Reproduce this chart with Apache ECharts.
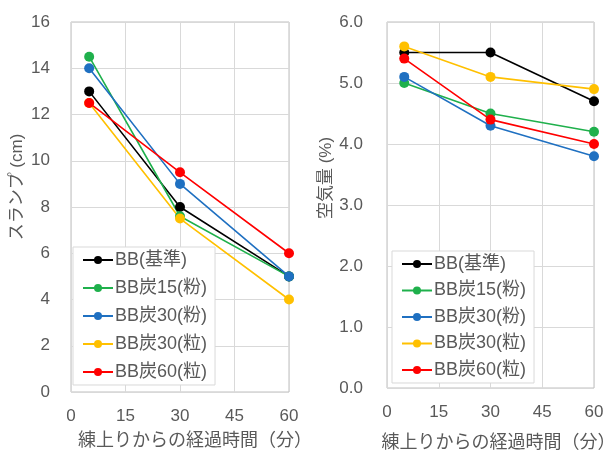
<!DOCTYPE html>
<html lang="ja">
<head>
    <meta charset="UTF-8">
    <title>スランプ・空気量</title>
    <script type="text/javascript" src="https://cdn.jsdelivr.net/npm/echarts@6/dist/echarts.min.js"></script>
    <style>
        html, body { margin: 0; padding: 0; background: #fff; }
        #main { width: 610px; height: 450px; }
    </style>
</head>
<body>
<div id="main"></div>
<script>
    // 経過時間 (分)
    let times = [5, 30, 60];
    let names = ['BB(基準)', 'BB炭15(粉)', 'BB炭30(粉)', 'BB炭30(粒)', 'BB炭60(粒)'];
    let colors = ['#000000', '#1fb04c', '#1f70c1', '#ffc000', '#ff0000'];

    // スランプ (cm)
    let slump = [
        [13, 8, 5],
        [14.5, 7.6, 5],
        [14, 9, 5],
        [12.5, 7.5, 4],
        [12.5, 9.5, 6]
    ];
    // 空気量 (%)
    let air = [
        [5.5, 5.5, 4.7],
        [5.0, 4.5, 4.2],
        [5.1, 4.3, 3.8],
        [5.6, 5.1, 4.9],
        [5.4, 4.4, 4.0]
    ];

    let font = "'Liberation Sans', 'Noto Sans CJK JP', sans-serif";
    let gray = '#595959';

    function pairs(vals) {
        return vals.map((v, i) => [times[i], v]);
    }

    let series = [];
    names.forEach((n, i) => {
        series.push({ name: n, type: 'line', xAxisIndex: 0, yAxisIndex: 0, data: pairs(slump[i]),
            symbol: 'circle', symbolSize: 10, lineStyle: { width: 1.6 }, color: colors[i] });
        series.push({ name: n, type: 'line', xAxisIndex: 1, yAxisIndex: 1, data: pairs(air[i]),
            symbol: 'circle', symbolSize: 10, lineStyle: { width: 1.6 }, color: colors[i] });
    });

    function xAxis(idx, gap, shift) {
        return {
            type: 'value', gridIndex: idx, min: 0, max: 60, interval: 15,
            name: '練上りからの経過時間（分）', nameLocation: 'middle', nameGap: gap,
            nameTextStyle: { color: gray, fontSize: 18, fontFamily: font, padding: [0, 0, 0, shift] },
            axisLine: { show: false }, axisTick: { show: false },
            axisLabel: { color: gray, fontSize: 17, fontFamily: font, margin: 16 },
            splitLine: { lineStyle: { color: '#d9d9d9' } }
        };
    }

    function legend(left, top, gap) {
        return {
            data: names, orient: 'vertical', left: left, top: top,
            itemWidth: 30, itemHeight: 10, itemGap: gap,
            backgroundColor: '#fff', borderColor: '#d9d9d9', borderWidth: 1, padding: [4, 8, 4, 9],
            textStyle: { color: gray, fontSize: 18, fontFamily: font, padding: [0, 0, 0, -3] }
        };
    }

    let chart = echarts.init(document.getElementById('main'));
    chart.setOption({
        animation: false,
        grid: [
            { left: 71, top: 22, width: 218, height: 370, show: true, borderColor: '#bfbfbf', borderWidth: 1,
              outerBoundsMode: 'none' },
            { left: 387, top: 22, width: 207, height: 366, show: true, borderColor: '#bfbfbf', borderWidth: 1,
              outerBoundsMode: 'none' }
        ],
        xAxis: [xAxis(0, 40, 30), xAxis(1, 46, 16)],
        yAxis: [
            {
                type: 'value', gridIndex: 0, min: 0, max: 16, interval: 2,
                name: 'スランプ (cm)', nameLocation: 'middle', nameGap: 45,
                nameTextStyle: { color: gray, fontSize: 17, fontFamily: font, padding: [0, 0, 0, 40] },
                axisLine: { show: false }, axisTick: { show: false },
                axisLabel: { color: gray, fontSize: 17, fontFamily: font, margin: 21 },
                splitLine: { lineStyle: { color: '#d9d9d9' } }
            },
            {
                type: 'value', gridIndex: 1, min: 0, max: 6, interval: 1,
                name: '空気量 (%)', nameLocation: 'middle', nameGap: 52,
                nameTextStyle: { color: gray, fontSize: 17, fontFamily: font, padding: [0, 0, 0, 54] },
                axisLine: { show: false }, axisTick: { show: false },
                axisLabel: { color: gray, fontSize: 17, fontFamily: font, margin: 24,
                    formatter: v => v.toFixed(1) },
                splitLine: { lineStyle: { color: '#d9d9d9' } }
            }
        ],
        legend: [legend(73, 247, 10), legend(392, 251, 8.5)],
        series: series
    });
</script>
</body>
</html>
